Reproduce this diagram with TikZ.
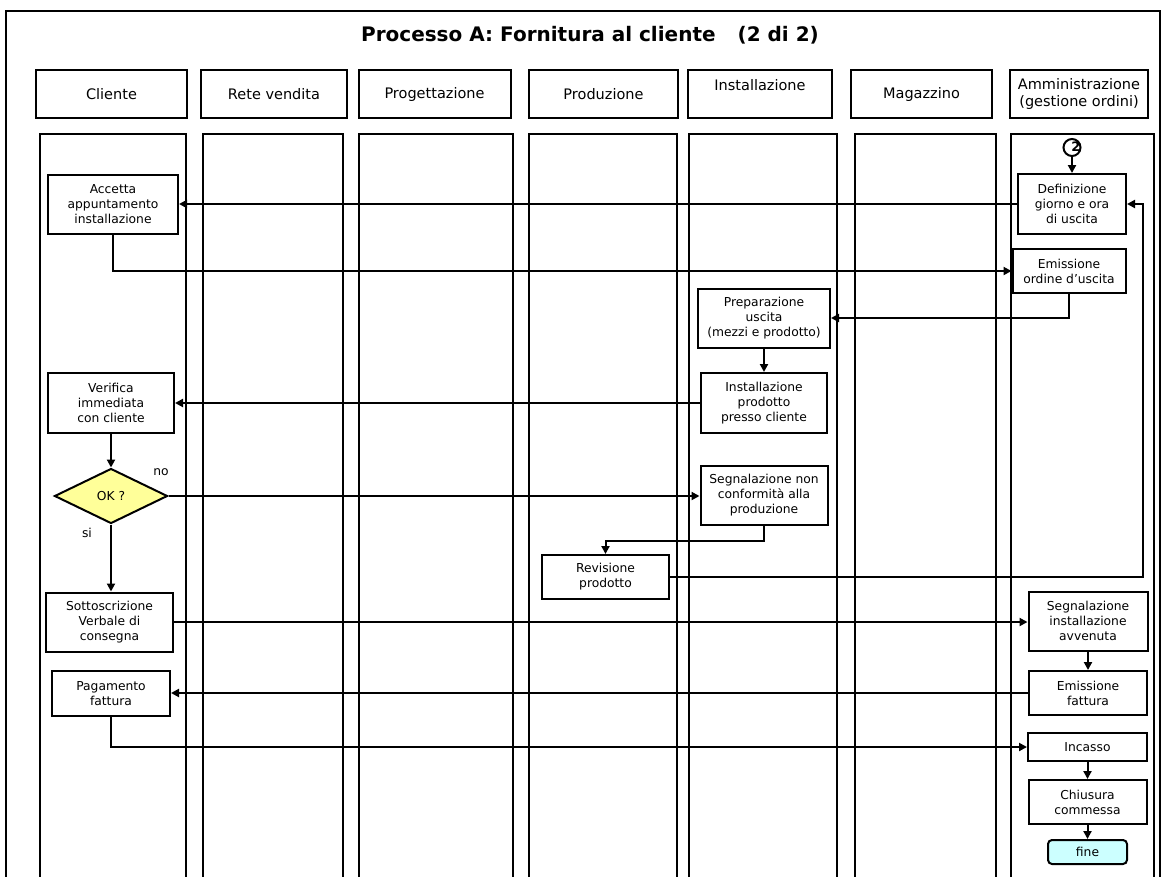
\documentclass[tikz,border=0pt]{standalone}
\usepackage{fontspec}
\setmainfont{DejaVu Sans}
\usetikzlibrary{arrows.meta,shapes.geometric}
\definecolor{okyellow}{HTML}{FFFF99}
\definecolor{fineblue}{HTML}{CCFFFF}
\begin{document}
\begin{tikzpicture}[x=1pt,y=-1pt,
    lane/.style={draw, line width=2pt},
    head/.style={draw, line width=2pt, minimum height=48pt, inner sep=0pt, align=center, font=\fontsize{14.5}{17}\selectfont},
    proc/.style={draw, line width=2pt, inner sep=0pt, align=center, font=\fontsize{12.3}{15}\selectfont},
    decision/.style={diamond, draw, fill=okyellow, line width=2pt, inner sep=0pt, minimum width=113pt, minimum height=55pt, font=\fontsize{12.3}{14}\selectfont},
    endbox/.style={proc, fill=fineblue, rounded corners=4pt},
    tag/.style={font=\fontsize{12.3}{14}\selectfont},
    flow/.style={line width=2pt, -{Triangle[length=8pt,width=8pt]}}
]
\useasboundingbox (0,0) rectangle (1162,876);

% frame and title
\draw[line width=2.4pt] (6,890) -- (6,11) -- (1160,11) -- (1160,890);
\node[font=\fontsize{20}{23}\selectfont\bfseries] (title) at (590,35) {Processo A: Fornitura al cliente\hspace{1.1em}(2 di 2)};

% swimlanes
\foreach \l/\r in {40/186,203/343,359/513,529/677,689/837,855/996,1011/1154}{
  \draw[lane] (\l,134) rectangle (\r,890);
}

\node[head, minimum width=151pt] (hcli) at (111.5,94) {Cliente};
\node[head, minimum width=146pt] (hrete) at (274,94) {Rete vendita};
\node[head, minimum width=152pt] (hprog) at (434.5,94) {Progettazione};
\node[head, minimum width=149pt] (hprod) at (603.5,94) {Produzione};
\node[head, minimum width=144pt] (hinst) at (760,94) {Installazione\\[-5pt]\strut};
\node[head, minimum width=141pt] (hmag) at (921.5,94) {Magazzino};
\node[head, minimum width=138pt] (hamm) at (1079,94) {Amministrazione\\(gestione ordini)};

% activities
\node[draw, circle, line width=2pt, minimum size=17pt, inner sep=0pt] (c2) at (1072,147.5) {};
\node[font=\fontsize{13}{13}\selectfont\bfseries] (c2num) at (1076,146.5) {2};
\node[proc, minimum width=108pt, minimum height=60pt] (def) at (1072,204) {Definizione\\giorno e ora\\di uscita};
\node[proc, minimum width=130pt, minimum height=59pt] (accetta) at (113,204.5) {Accetta\\appuntamento\\installazione};
\node[proc, minimum width=113pt, minimum height=44pt] (emord) at (1069,271) {Emissione\\ordine d'uscita};
\node[proc, minimum width=132pt, minimum height=59pt] (prep) at (764,318) {Preparazione\\uscita\\(mezzi e prodotto)};
\node[proc, minimum width=126pt, minimum height=60pt] (instp) at (764,403) {Installazione\\prodotto\\presso cliente};
\node[proc, minimum width=126pt, minimum height=60pt] (verifica) at (111,403) {Verifica\\immediata\\con cliente};
\node[decision] (ok) at (111,496) {OK ?};
\node[tag] (no) at (161,472) {no};
\node[tag] (si) at (87,533) {si};
\node[proc, minimum width=127pt, minimum height=59pt] (segnc) at (764,495) {Segnalazione non\\conformità alla\\produzione};
\node[proc, minimum width=127pt, minimum height=44pt] (rev) at (605.5,577) {Revisione\\prodotto};
\node[proc, minimum width=127pt, minimum height=59pt] (sott) at (109.5,622) {Sottoscrizione\\Verbale di\\consegna};
\node[proc, minimum width=119pt, minimum height=59pt] (seginst) at (1088,621) {Segnalazione\\installazione\\avvenuta};
\node[proc, minimum width=118pt, minimum height=45pt] (pag) at (111,693.5) {Pagamento\\fattura};
\node[proc, minimum width=118pt, minimum height=44pt] (emfatt) at (1088,693) {Emissione\\fattura};
\node[proc, minimum width=119pt, minimum height=28pt] (incasso) at (1087.5,747) {Incasso};
\node[proc, minimum width=118pt, minimum height=44pt] (chiusura) at (1087.5,802) {Chiusura\\commessa};
\node[endbox, minimum width=79pt, minimum height=24pt] (fine) at (1087.5,852) {fine};

% connectors
\coordinate (back) at (1143,577);
\draw[flow] (c2) -- (def);
\draw[flow] (def.west) -- (def.west -| accetta.east);
\draw[flow] (accetta.south) |- (emord.west);
\draw[flow] (emord.south) |- (prep.east);
\draw[flow] (prep) -- (instp);
\draw[flow] (instp.west) -- (instp.west -| verifica.east);
\draw[flow] (verifica) -- (ok);
\draw[flow] (ok.east) -- (ok.east -| segnc.west);
\draw[flow] (ok.south) -- (ok.south |- sott.north);
\draw[flow] (segnc.south) -- ++(0,15) -| (rev.north);
\draw[flow] (rev.east) -- (back) |- (def.east);
\draw[flow] (sott.east) -- (sott.east -| seginst.west);
\draw[flow] (seginst) -- (emfatt);
\draw[flow] (emfatt.west) -- (emfatt.west -| pag.east);
\draw[flow] (pag.south) |- (incasso.west);
\draw[flow] (incasso) -- (chiusura);
\draw[flow] (chiusura) -- (fine);

\end{tikzpicture}
\end{document}
